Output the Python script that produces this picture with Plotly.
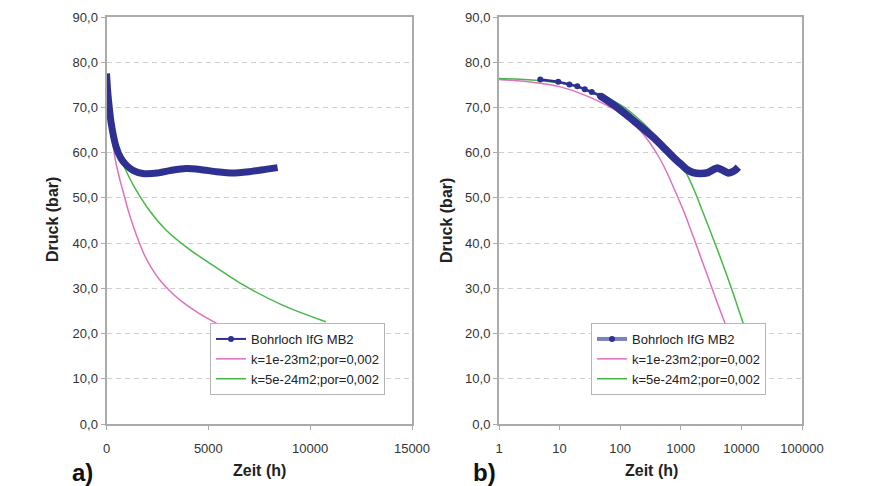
import plotly.graph_objects as go

# ---------------- data: panel a) linear time axis ----------------
t_lin_blue = [0, 50, 100, 230, 470, 700, 960, 1300, 1780, 2500, 3200, 3900, 4600, 5400, 6190, 7000, 7800, 8400]
p_lin_blue = [77.5, 74.0, 71.5, 66.5, 61.3, 58.8, 57.3, 56.1, 55.4, 55.5, 56.1, 56.5, 56.3, 55.8, 55.5, 55.8, 56.3, 56.7]

t_lin_pink = [0, 50, 100, 200, 300, 410, 600, 820, 1050, 1310, 1600, 1880, 2200, 2610, 3250, 3760, 4560, 5390]
p_lin_pink = [76.2, 72.5, 69.0, 65.3, 62.6, 59.0, 55.0, 51.3, 47.5, 43.8, 40.2, 37.2, 34.6, 31.9, 28.8, 26.9, 24.4, 22.3]

t_lin_green = [0, 100, 200, 350, 500, 700, 900, 1130, 1470, 2110, 2920, 4070, 5050, 6690, 8640, 10770]
p_lin_green = [76.4, 70.8, 67.6, 64.2, 61.6, 58.8, 56.6, 54.4, 51.6, 47.2, 42.9, 38.6, 35.6, 30.8, 26.3, 22.6]

# ---------------- data: panel b) logarithmic time axis ----------------
t_log_blue_early = [4.8, 9.5, 14.5, 19.6, 26, 34, 46]
p_log_blue_early = [76.2, 75.7, 75.1, 74.7, 74.0, 73.4, 72.6]
t_log_blue = [46, 60, 80, 100, 150, 200, 350, 500, 700, 850, 1000, 1250, 1600, 2100, 2800, 3500, 4000, 4800, 6100, 7200, 8000, 8900]
p_log_blue = [72.6, 71.6, 70.5, 69.5, 67.6, 66.2, 63.4, 61.4, 59.4, 58.3, 57.5, 56.3, 55.6, 55.4, 55.6, 56.3, 56.6, 56.2, 55.5, 55.8, 56.2, 56.8]

t_log_pink = [1, 3, 10, 30, 100, 200, 300, 454, 600, 850, 1200, 1610, 2200, 3030, 4000, 5360]
p_log_pink = [76.2, 75.7, 74.6, 72.4, 68.7, 65.3, 62.4, 58.6, 55.4, 50.8, 46.0, 41.4, 36.4, 31.3, 26.8, 22.3]

t_log_green = [1, 3, 10, 30, 100, 200, 350, 500, 700, 1000, 1250, 1700, 2350, 3200, 4440, 5700, 7400, 10700]
p_log_green = [76.4, 76.1, 75.4, 73.8, 70.6, 67.5, 64.3, 61.9, 60.0, 57.6, 55.3, 51.4, 46.6, 42.0, 37.0, 33.0, 28.7, 22.3]

series_names = ["Bohrloch IfG MB2", "k=1e-23m2;por=0,002", "k=5e-24m2;por=0,002"]

y_ticks = [0, 10, 20, 30, 40, 50, 60, 70, 80, 90]
y_ticktext = ["0,0", "10,0", "20,0", "30,0", "40,0", "50,0", "60,0", "70,0", "80,0", "90,0"]
x_lin_ticks = [0, 5000, 10000, 15000]
x_lin_ticktext = ["0", "5000", "10000", "15000"]
x_log_ticks = [1, 10, 100, 1000, 10000, 100000]
x_log_ticktext = ["1", "10", "100", "1000", "10000", "100000"]

BLUE = "#2E3192"
PINK = "#E070C0"
GREEN = "#45B848"
FONT = "Liberation Sans, Arial, sans-serif"

W, H = 881, 486
def px(x):
    return x / W
def py(y):
    return 1 - y / H

fig = go.Figure()

# panel a
fig.add_trace(go.Scatter(x=t_lin_pink, y=p_lin_pink, mode="lines", line=dict(color=PINK, width=1.5, shape="spline", smoothing=0.8),
                         xaxis="x", yaxis="y", showlegend=False))
fig.add_trace(go.Scatter(x=t_lin_green, y=p_lin_green, mode="lines", line=dict(color=GREEN, width=1.5, shape="spline", smoothing=0.8),
                         xaxis="x", yaxis="y", showlegend=False))
fig.add_trace(go.Scatter(x=t_lin_blue, y=p_lin_blue, mode="lines", line=dict(color=BLUE, width=7, shape="spline", smoothing=0.6),
                         xaxis="x", yaxis="y", showlegend=False))
# legend a
fig.add_trace(go.Scatter(x=[None], y=[None], mode="lines+markers", name=series_names[0],
                         line=dict(color=BLUE, width=2), marker=dict(color=BLUE, size=6),
                         xaxis="x", yaxis="y", legend="legend"))
fig.add_trace(go.Scatter(x=[None], y=[None], mode="lines", name=series_names[1],
                         line=dict(color=PINK, width=1.5), xaxis="x", yaxis="y", legend="legend"))
fig.add_trace(go.Scatter(x=[None], y=[None], mode="lines", name=series_names[2],
                         line=dict(color=GREEN, width=1.5), xaxis="x", yaxis="y", legend="legend"))

# panel b
fig.add_trace(go.Scatter(x=t_log_pink, y=p_log_pink, mode="lines", line=dict(color=PINK, width=1.5, shape="spline", smoothing=0.8),
                         xaxis="x2", yaxis="y2", showlegend=False))
fig.add_trace(go.Scatter(x=t_log_green, y=p_log_green, mode="lines", line=dict(color=GREEN, width=1.5, shape="spline", smoothing=0.8),
                         xaxis="x2", yaxis="y2", showlegend=False))
fig.add_trace(go.Scatter(x=t_log_blue_early, y=p_log_blue_early, mode="lines+markers",
                         line=dict(color=BLUE, width=2.5), marker=dict(color=BLUE, size=6),
                         xaxis="x2", yaxis="y2", showlegend=False))
fig.add_trace(go.Scatter(x=t_log_blue, y=p_log_blue, mode="lines", line=dict(color=BLUE, width=7.5, shape="spline", smoothing=0.6),
                         xaxis="x2", yaxis="y2", showlegend=False))
# legend b
fig.add_trace(go.Scatter(x=[None], y=[None], mode="lines+markers", name=series_names[0],
                         line=dict(color="#7C80C0", width=4), marker=dict(color=BLUE, size=6),
                         xaxis="x2", yaxis="y2", legend="legend2"))
fig.add_trace(go.Scatter(x=[None], y=[None], mode="lines", name=series_names[1],
                         line=dict(color=PINK, width=1.5), xaxis="x2", yaxis="y2", legend="legend2"))
fig.add_trace(go.Scatter(x=[None], y=[None], mode="lines", name=series_names[2],
                         line=dict(color=GREEN, width=1.5), xaxis="x2", yaxis="y2", legend="legend2"))

axis_common = dict(showline=True, mirror=True, linecolor="#ababab", linewidth=2,
                   ticks="outside", ticklen=4, tickcolor="#ababab", tickwidth=1, automargin=False,
                   tickfont=dict(family=FONT, size=13, color="#333333"), zeroline=False)

ydom = [py(424), py(17)]
legend_common = dict(font=dict(family=FONT, size=13, color="#222222"), bgcolor="white",
                     bordercolor="#b5b5b5", borderwidth=1, xanchor="left", yanchor="top",
                     tracegroupgap=0, itemwidth=30)

def label(text, x, y, size, angle=0, color="#222222"):
    return dict(text=text, x=px(x), y=py(y), xref="paper", yref="paper", textangle=angle,
                xanchor="center", yanchor="middle", showarrow=False,
                font=dict(family=FONT, size=size, color=color))

fig.update_layout(
    width=W, height=H,
    margin=dict(l=0, r=0, t=0, b=0, autoexpand=False),
    paper_bgcolor="white", plot_bgcolor="white",
    font=dict(family=FONT),
    xaxis=dict(domain=[px(106.5), px(412)], range=[0, 15000], tickvals=x_lin_ticks, ticktext=x_lin_ticktext,
               showgrid=False, anchor="y", ticklabelstandoff=7, **axis_common),
    yaxis=dict(domain=ydom, range=[0, 90], tickvals=y_ticks, ticktext=y_ticktext, anchor="x",
               showgrid=True, gridcolor="#cfcfcf", gridwidth=1, griddash="5px,4px", **axis_common),
    xaxis2=dict(domain=[px(499), px(802)], type="log", range=[0, 5], tickvals=x_log_ticks,
                ticktext=x_log_ticktext, showgrid=False, anchor="y2", ticklabelstandoff=7, **axis_common),
    yaxis2=dict(domain=ydom, range=[0, 90], tickvals=y_ticks, ticktext=y_ticktext, anchor="x2",
                showgrid=True, gridcolor="#cfcfcf", gridwidth=1, griddash="5px,4px", **axis_common),
    legend=dict(x=px(210), y=py(323), **legend_common),
    legend2=dict(x=px(591), y=py(323), **legend_common),
    annotations=[
        label("<b>Druck (bar)</b>", 53, 220, 16, -90),
        label("<b>Druck (bar)</b>", 447, 220, 16, -90),
        label("<b>Zeit (h)</b>", 259, 470, 16),
        label("<b>Zeit (h)</b>", 651, 470, 16),
        label("<b>a)</b>", 82, 472, 24, 0, "#111111"),
        label("<b>b)</b>", 484, 472, 24, 0, "#111111"),
    ],
)

fig.write_html("out.html")
